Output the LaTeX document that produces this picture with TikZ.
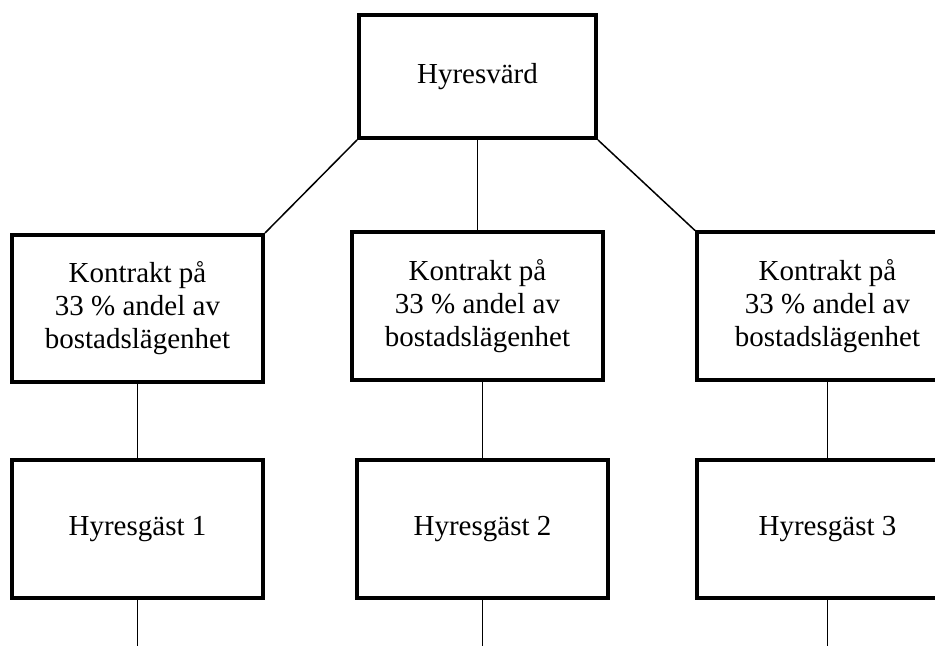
\documentclass[tikz,border=0pt]{standalone}
\usepackage{fontspec}
\setmainfont{Liberation Serif}
\usetikzlibrary{positioning}

\begin{document}
\begin{tikzpicture}[
    x=0.5pt, y=-0.5pt,
    box/.style={draw, line width=2pt, fill=white, align=center,
                inner sep=0pt, font=\fontsize{14.5}{16.5}\selectfont},
    kbox/.style={box, minimum width=125.5pt, minimum height=73.5pt},
    gbox/.style={box, minimum width=125.5pt, minimum height=69pt},
    fl/.style={line width=0.75pt}
]
    \useasboundingbox (0,0) rectangle (935,646);

    \node[box, minimum width=118.5pt, minimum height=61.5pt] (hv) at (477.5,76.5) {Hyresvärd};

    \node[kbox] (k1) at (137.5,308.5) {Kontrakt på\\33 \% andel av\\bostadslägenhet};
    \node[kbox] (k2) at (477.5,306) {Kontrakt på\\33 \% andel av\\bostadslägenhet};
    \node[kbox, minimum width=130.5pt] (k3) at (827.5,306) {Kontrakt på\\33 \% andel av\\bostadslägenhet};

    \node[gbox] (t1) at (137.5,529) {Hyresgäst 1};
    \node[gbox] (t2) at (482.5,529) {Hyresgäst 2};
    \node[gbox, minimum width=130.5pt] (t3) at (827.5,529) {Hyresgäst 3};

    \coordinate (e1) at (137.5,646);
    \coordinate (e2) at (482.5,646);
    \coordinate (e3) at (827.5,646);

    \draw[fl] (hv.south west) -- (k1.north east);
    \draw[fl] (hv.south) -- (k2.north);
    \draw[fl] (hv.south east) -- (k3.north west);

    \draw[fl] (k1.south) -- (t1.north);
    \draw[fl] (t2.north) -- (t2.north |- k2.south);
    \draw[fl] (k3.south) -- (t3.north);

    \draw[fl] (t1.south) -- (e1);
    \draw[fl] (t2.south) -- (e2);
    \draw[fl] (t3.south) -- (e3);
\end{tikzpicture}
\end{document}
